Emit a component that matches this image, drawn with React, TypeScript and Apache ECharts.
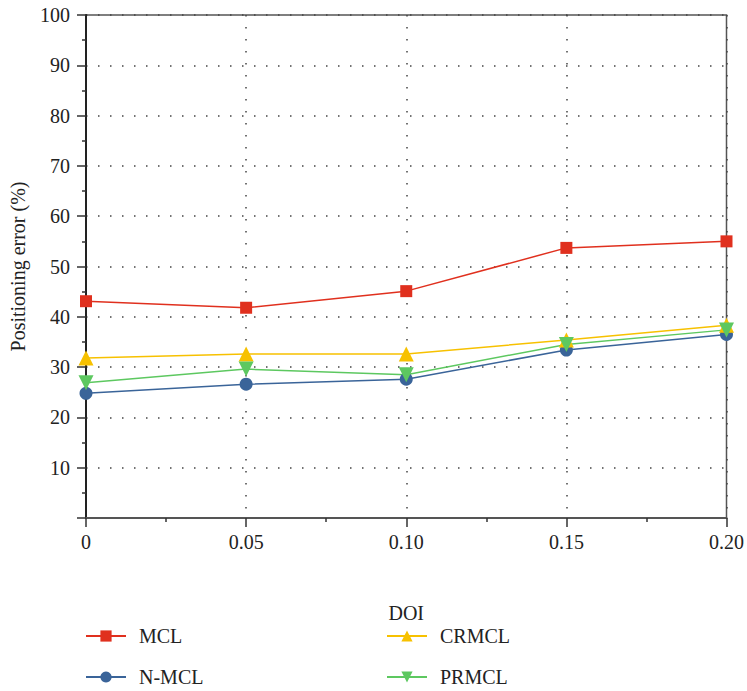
import React, { useEffect, useRef } from "react";
import * as echarts from "echarts";

const doi = [0, 0.05, 0.1, 0.15, 0.2];
const mcl = [43.1, 41.8, 45.1, 53.7, 55.0];
const nmcl = [24.8, 26.6, 27.6, 33.4, 36.5];
const crmcl = [31.8, 32.6, 32.6, 35.4, 38.3];
const prmcl = [26.9, 29.6, 28.5, 34.5, 37.4];
const xTickLabels: Record<string, string> = { "0": "0", "0.05": "0.05", "0.1": "0.10", "0.15": "0.15", "0.2": "0.20" };

const FONT = "'Liberation Serif', 'DejaVu Serif', serif";

export default function App() {
  const ref = useRef<HTMLDivElement>(null);
  useEffect(() => {
    document.body.style.margin = "0";
    const chart = echarts.init(ref.current!, null, { renderer: "svg" });
    const dotted = { color: "#444", width: 1.5, type: [1.5, 10.5] as number[] };
    const mk = (name: string, vals: number[], color: string, symbol: string, size: number, rotate = 0) => ({
      name,
      type: "line",
      data: doi.map((d, i) => [d, vals[i]]),
      symbol,
      symbolSize: size,
      symbolRotate: rotate,
      itemStyle: { color },
      lineStyle: { color, width: 1.5 },
      emphasis: { disabled: true },
    });
    const legendBase = {
      orient: "vertical",
      top: 626,
      padding: 0,
      height: 65,
      itemWidth: 40,
      itemHeight: 14,
      itemGap: 21,
      textStyle: { fontFamily: FONT, fontSize: 20, color: "#222", padding: [0, 0, 0, 8], lineHeight: 20 },
    };
    chart.setOption({
      animation: false,
      textStyle: { fontFamily: FONT },
      grid: { left: 85, right: 18, top: 15, bottom: 173, show: true, borderColor: "#555", borderWidth: 1.5, backgroundColor: "transparent" },
      xAxis: {
        type: "value",
        min: 0,
        max: 0.2,
        interval: 0.05,
        name: "DOI",
        nameLocation: "middle",
        nameGap: 85,
        nameTextStyle: { fontFamily: FONT, fontSize: 20, color: "#222" },
        axisLine: { show: true, lineStyle: { color: "#555", width: 2 } },
        axisTick: { show: true, inside: false, length: 9, lineStyle: { color: "#333", width: 1.5 } },
        minorTick: { show: true, splitNumber: 2, length: 4, lineStyle: { color: "#333", width: 1.5 } },
        axisLabel: {
          fontFamily: FONT,
          fontSize: 20,
          color: "#222",
          margin: 14,
          formatter: (v: number) => xTickLabels[String(Math.round(v * 100) / 100)] ?? String(v),
        },
        splitLine: { show: true, lineStyle: dotted },
      },
      yAxis: {
        type: "value",
        min: 0,
        max: 100,
        interval: 10,
        name: "Positioning error (%)",
        nameLocation: "middle",
        nameGap: 58,
        nameTextStyle: { fontFamily: FONT, fontSize: 20, color: "#222" },
        axisLine: { show: true, lineStyle: { color: "#222", width: 2 } },
        axisTick: { show: true, inside: false, length: 9, lineStyle: { color: "#333", width: 1.5 } },
        minorTick: { show: true, splitNumber: 2, length: 4, lineStyle: { color: "#333", width: 1.5 } },
        axisLabel: {
          fontFamily: FONT,
          fontSize: 20,
          color: "#222",
          margin: 16,
          formatter: (v: number) => (v === 0 ? "" : String(v)),
        },
        splitLine: { show: true, lineStyle: dotted },
      },
      legend: [
        { ...legendBase, data: ["MCL", "N-MCL"], left: 85 },
        { ...legendBase, data: ["CRMCL", "PRMCL"], left: 386 },
      ],
      series: [
        mk("MCL", mcl, "#e0301e", "rect", 12),
        mk("N-MCL", nmcl, "#3a6499", "circle", 13),
        mk("CRMCL", crmcl, "#f7c100", "triangle", 15),
        mk("PRMCL", prmcl, "#5dc860", "triangle", 15, 180),
      ],
    });
    return () => chart.dispose();
  }, []);
  return <div ref={ref} style={{ width: 747, height: 691 }} />;
}
